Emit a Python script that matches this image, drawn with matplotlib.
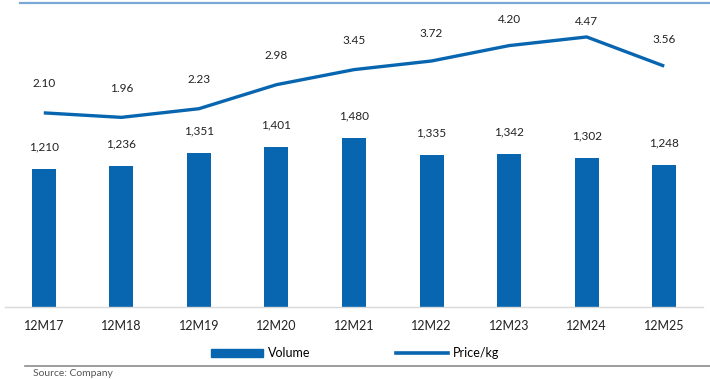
import matplotlib.pyplot as plt
from matplotlib.lines import Line2D
import numpy as np

# Dati
periods = ['12M17', '12M18', '12M19', '12M20', '12M21', '12M22', '12M23', '12M24', '12M25']
volume = [1210, 1236, 1351, 1401, 1480, 1335, 1342, 1302, 1248]
price_kg = [2.10, 1.96, 2.23, 2.98, 3.45, 3.72, 4.20, 4.47, 3.56]

blue = '#0866B0'
plt.rcParams['font.family'] = ['Lato', 'DejaVu Sans']

fig = plt.figure(figsize=(7.10, 3.79), dpi=100)
ax = fig.add_axes([5 / 710, 72 / 379, 698 / 710, 304 / 379])
x = np.arange(len(periods))

# Barre volume
bars = ax.bar(x, volume, width=0.31, color=blue, zorder=2)
ax.set_ylim(0, 2665)
ax.set_xlim(-0.5, len(periods) - 0.5)
for xi, v in zip(x, volume):
    ax.annotate(f'{v:,}', (xi, v), xytext=(0, 12), textcoords='offset points',
                ha='center', va='bottom', fontsize=8.5, color='#222222')

# Linea prezzo su asse secondario
ax2 = ax.twinx()
ax2.plot(x, price_kg, color=blue, linewidth=2.4, solid_capstyle='butt', zorder=3)
ax2.set_ylim(-3.96, 5.53)
offsets = [17, 17, 17, 17, 17, 16, 15, 7, 15]
for xi, p, off in zip(x, price_kg, offsets):
    ax2.annotate(f'{p:.2f}', (xi, p), xytext=(0, off), textcoords='offset points',
                 ha='center', va='bottom', fontsize=8.5, color='#222222')

for a in (ax, ax2):
    for s in a.spines.values():
        s.set_visible(False)
    a.set_yticks([])
ax.spines['bottom'].set_visible(True)
ax.spines['bottom'].set_color('#D9D9D9')
ax.spines['bottom'].set_linewidth(1.0)
ax.set_xticks(x)
ax.set_xticklabels(periods, fontsize=9, color='#222222')
ax.tick_params(axis='x', length=0, pad=9)

# Legenda
handles = [plt.Rectangle((0, 0), 1, 1, color=blue),
           Line2D([0], [0], color=blue, linewidth=2.6)]
fig.legend(handles, ['Volume', 'Price/kg'], loc='center', bbox_to_anchor=(0.5, 26 / 379),
           ncol=2, frameon=False, fontsize=9, handlelength=4.2, handleheight=0.6,
           columnspacing=6.8, handletextpad=0.4)

# Linee di cornice e fonte
fig.add_artist(Line2D([20 / 710, 1], [1 - 3 / 379, 1 - 3 / 379], color='#7BA7D7', linewidth=1.6))
fig.add_artist(Line2D([25 / 710, 1], [1 - 366 / 379, 1 - 366 / 379], color='#8C8C8C', linewidth=1.2))
fig.text(33 / 710, 1 - 369 / 379, 'Source: Company', fontsize=7.5, color='#555555', va='top')

plt.savefig('out.png', dpi=100)
